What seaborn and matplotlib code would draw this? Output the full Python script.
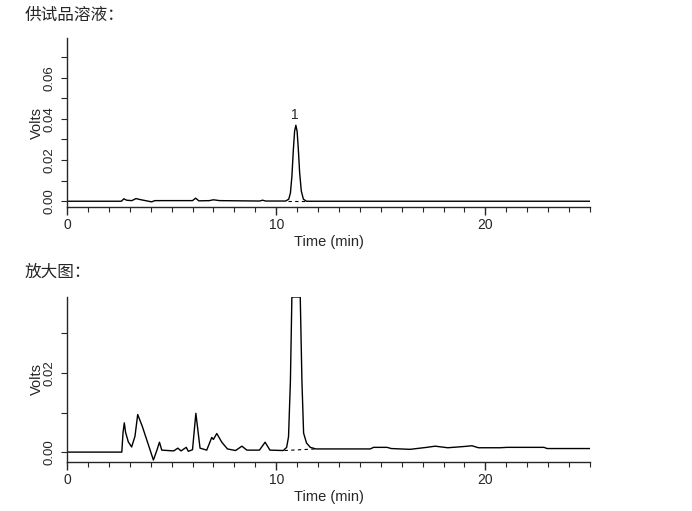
import numpy as np
import pandas as pd
import seaborn as sns
import matplotlib.pyplot as plt
from matplotlib.ticker import MultipleLocator

# top panel: full chromatogram (min, volts)
time_full = [0.0, 2.6, 2.72, 2.85, 3.1, 3.3, 3.5, 3.8, 4.05, 4.12, 4.2, 4.4, 6.0,
             6.15, 6.3, 6.8, 7.0, 7.3, 9.2, 9.35, 9.5, 10.45, 10.6, 10.68, 10.75,
             10.82, 10.88, 10.94, 11.0, 11.06, 11.12, 11.2, 11.3, 11.45, 25.0]
volts_full = [0.0, 0.0, 0.0012, 0.0005, 0.0003, 0.0013, 0.0008, 0.0002, -0.0003, 0.0,
              0.0003, 0.0003, 0.0003, 0.0015, 0.0002, 0.0003, 0.0007, 0.0003, 0.0001,
              0.0005, 0.0001, 0.0001, 0.001, 0.004, 0.012, 0.025, 0.034, 0.0369,
              0.034, 0.025, 0.014, 0.005, 0.001, 0.0, 0.0]

# bottom panel: enlarged view (peak 1 clipped at the top)
time_zoom = [0.0, 2.62, 2.68, 2.74, 2.8, 2.93, 3.09, 3.25, 3.38, 3.6, 3.85, 4.13,
             4.3, 4.42, 4.53, 5.1, 5.3, 5.45, 5.7, 5.8, 6.0, 6.16, 6.36, 6.68,
             6.92, 7.0, 7.16, 7.4, 7.67, 8.06, 8.36, 8.6, 9.2, 9.47, 9.7, 10.34,
             10.5, 10.59, 10.68, 10.75, 11.15, 11.23, 11.31, 11.45, 11.63, 11.9,
             14.5, 14.65, 15.3, 15.5, 16.4, 17.2, 17.6, 18.2, 18.95, 19.36, 19.67,
             20.7, 21.04, 22.8, 22.95, 25.0]
volts_zoom = [0.0, 0.0, 0.005, 0.0074, 0.005, 0.0026, 0.0013, 0.004, 0.0095, 0.0065,
              0.0025, -0.002, 0.0005, 0.0025, 0.0005, 0.0003, 0.001, 0.0003, 0.0012,
              0.0002, 0.0006, 0.0098, 0.001, 0.0005, 0.0037, 0.0032, 0.0047, 0.0025,
              0.0008, 0.0004, 0.0015, 0.0005, 0.0005, 0.0025, 0.0005, 0.0004, 0.0012,
              0.0039, 0.018, 0.0392, 0.0392, 0.018, 0.0048, 0.0023, 0.0012, 0.0008,
              0.0008, 0.0012, 0.0012, 0.0009, 0.0007, 0.0012, 0.0015, 0.0011, 0.0014,
              0.0016, 0.0011, 0.0011, 0.0012, 0.0012, 0.0009, 0.0009]

# integration baselines under peak 1 (dashed)
base_full_t = [10.55, 11.4]
base_full_v = [0.0, 0.0]
base_zoom_t = [10.4, 11.9]
base_zoom_v = [0.0004, 0.0008]

sns.set_style("ticks")
plt.rcParams['font.family'] = ['Liberation Sans', 'Noto Sans CJK SC']
plt.rcParams['axes.linewidth'] = 1.0

fig = plt.figure(figsize=(6.92, 5.11), dpi=100)
ax1 = fig.add_axes([0.0968, 0.5949, 0.7558, 0.3307])
ax2 = fig.add_axes([0.0968, 0.0959, 0.7558, 0.3229])

df_full = pd.DataFrame({'t': time_full, 'v': volts_full})
df_zoom = pd.DataFrame({'t': time_zoom, 'v': volts_zoom})

sns.lineplot(data=df_full, x='t', y='v', ax=ax1, color='black', linewidth=1.0)
sns.lineplot(x=base_full_t, y=base_full_v, ax=ax1, color='black', linewidth=0.8,
             linestyle=(0, (3, 3)))
sns.lineplot(data=df_zoom, x='t', y='v', ax=ax2, color='black', linewidth=1.0)
sns.lineplot(x=base_zoom_t, y=base_zoom_v, ax=ax2, color='black', linewidth=0.8,
             linestyle=(0, (3, 3)))

ax1.text(10.9, 0.0385, '1', ha='center', va='bottom', fontsize=10)

for ax, ylim in [(ax1, (-0.0028, 0.0793)), (ax2, (-0.0025, 0.0392))]:
    ax.set_xlim(0, 25)
    ax.set_ylim(*ylim)
    sns.despine(ax=ax)
    ax.xaxis.set_major_locator(MultipleLocator(10))
    ax.xaxis.set_minor_locator(MultipleLocator(1))
    ax.yaxis.set_major_locator(MultipleLocator(0.02))
    ax.yaxis.set_minor_locator(MultipleLocator(0.01))
    ax.tick_params(axis='x', which='major', length=6, width=1, labelsize=10, pad=2)
    ax.tick_params(axis='x', which='minor', length=3.5, width=0.8)
    ax.tick_params(axis='y', which='both', length=4, width=0.8, labelsize=9.5, pad=4)
    ax.yaxis.set_major_formatter(plt.FormatStrFormatter('%.2f'))
    for lab in ax.get_yticklabels():
        lab.set_rotation(90)
        lab.set_va('center')
    ax.set_xlabel('Time (min)', fontsize=10.5, labelpad=2)
    ax.set_ylabel('Volts', fontsize=10.5, labelpad=0)

fig.text(0.036, 0.97, '供试品溶液：', fontsize=12, ha='left', va='center',
         family=['Noto Sans CJK SC', 'DejaVu Sans'])
fig.text(0.036, 0.468, '放大图：', fontsize=12, ha='left', va='center',
         family=['Noto Sans CJK SC', 'DejaVu Sans'])

fig.savefig('out.png', dpi=100)
